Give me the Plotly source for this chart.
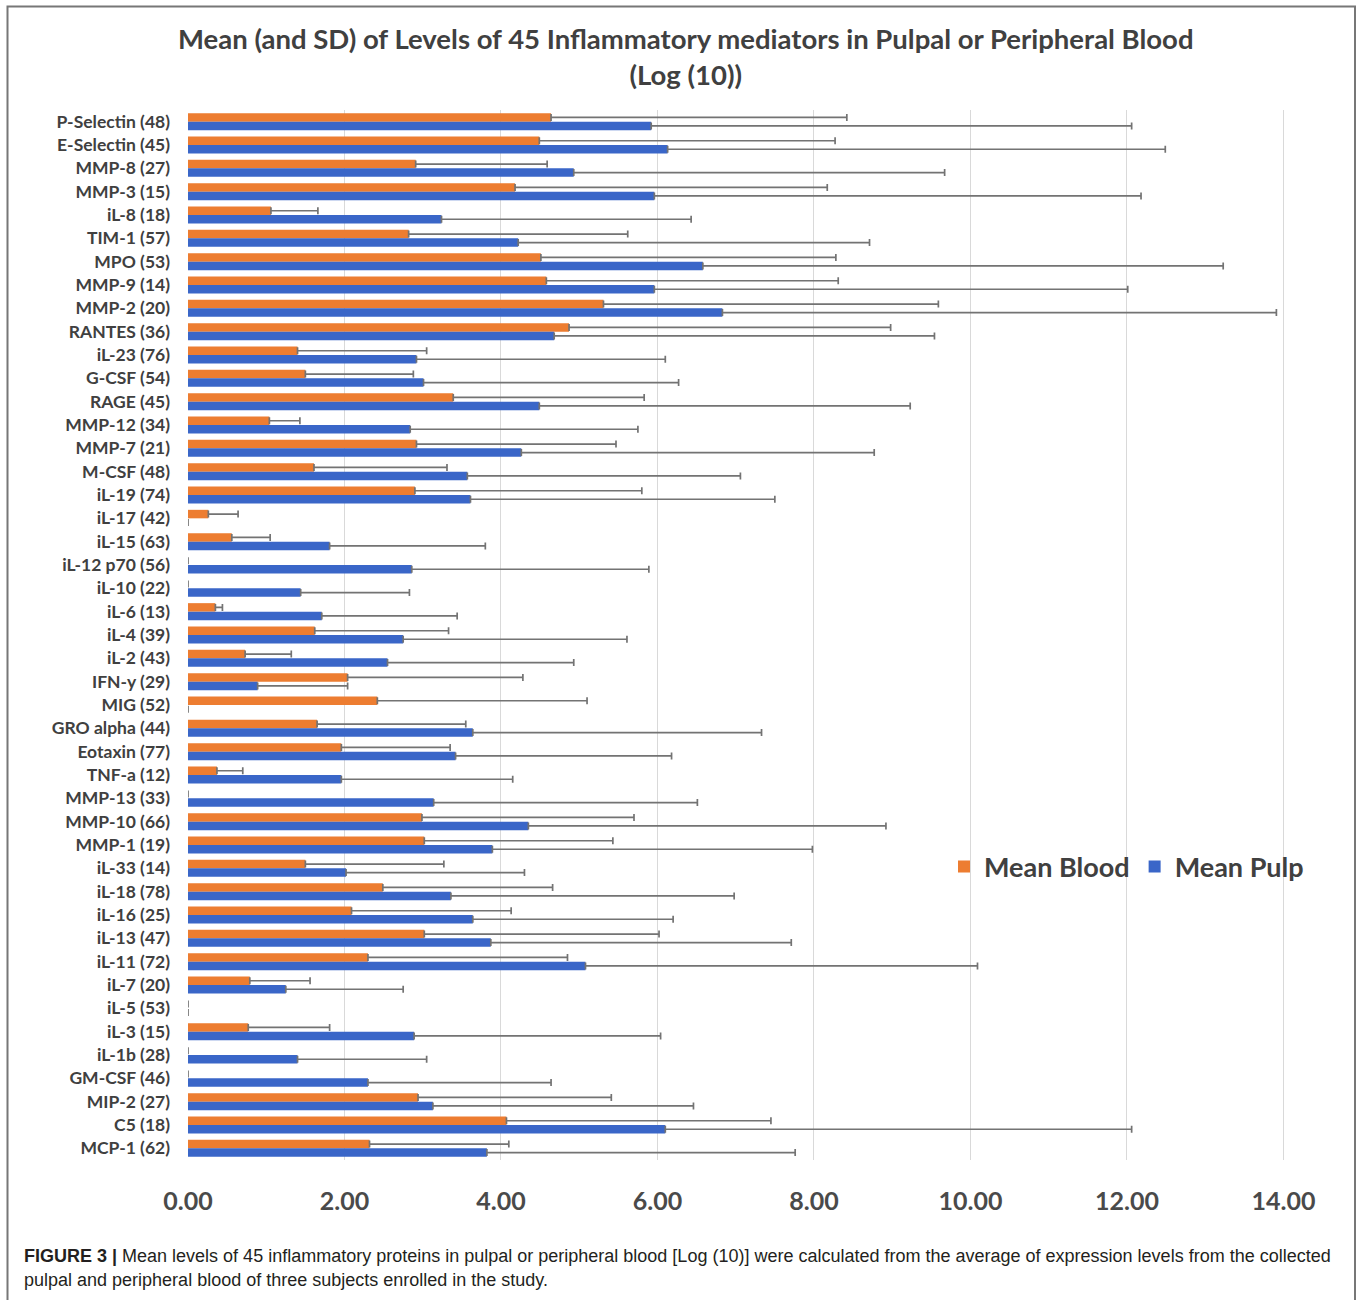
import plotly.graph_objects as go

# Mediators (number in brackets), listed top to bottom
mediators = [
    "P-Selectin (48)", "E-Selectin (45)", "MMP-8 (27)", "MMP-3 (15)", "iL-8 (18)",
    "TIM-1 (57)", "MPO (53)", "MMP-9 (14)", "MMP-2 (20)", "RANTES (36)",
    "iL-23 (76)", "G-CSF (54)", "RAGE (45)", "MMP-12 (34)", "MMP-7 (21)",
    "M-CSF (48)", "iL-19 (74)", "iL-17 (42)", "iL-15 (63)", "iL-12 p70 (56)",
    "iL-10 (22)", "iL-6 (13)", "iL-4 (39)", "iL-2 (43)", "IFN-y (29)",
    "MIG (52)", "GRO alpha (44)", "Eotaxin (77)", "TNF-a (12)", "MMP-13 (33)",
    "MMP-10 (66)", "MMP-1 (19)", "iL-33 (14)", "iL-18 (78)", "iL-16 (25)",
    "iL-13 (47)", "iL-11 (72)", "iL-7 (20)", "iL-5 (53)", "iL-3 (15)",
    "iL-1b (28)", "GM-CSF (46)", "MIP-2 (27)", "C5 (18)", "MCP-1 (62)",
]

# Mean log10 level in peripheral blood and its SD
mean_blood = [
    4.64, 4.49, 2.91, 4.18, 1.06,
    2.82, 4.51, 4.58, 5.31, 4.87,
    1.40, 1.50, 3.39, 1.04, 2.92,
    1.61, 2.90, 0.26, 0.56, 0.00,
    0.00, 0.35, 1.62, 0.73, 2.04,
    2.42, 1.65, 1.96, 0.37, 0.00,
    2.99, 3.02, 1.50, 2.49, 2.09,
    3.02, 2.30, 0.79, 0.00, 0.77,
    0.00, 0.00, 2.94, 4.07, 2.32,
]
sd_blood = [
    3.78, 3.78, 1.68, 3.99, 0.60,
    2.80, 3.77, 3.73, 4.28, 4.11,
    1.65, 1.38, 2.44, 0.39, 2.55,
    1.70, 2.90, 0.38, 0.49, 0.00,
    0.00, 0.09, 1.71, 0.59, 2.24,
    2.68, 1.90, 1.39, 0.33, 0.00,
    2.71, 2.41, 1.77, 2.17, 2.04,
    3.00, 2.55, 0.77, 0.00, 1.04,
    0.00, 0.00, 2.47, 3.38, 1.78,
]

# Mean log10 level in pulpal blood and its SD
mean_pulp = [
    5.92, 6.13, 4.93, 5.96, 3.24,
    4.22, 6.58, 5.96, 6.83, 4.68,
    2.92, 3.01, 4.49, 2.84, 4.26,
    3.57, 3.61, 0.00, 1.81, 2.86,
    1.44, 1.71, 2.75, 2.55, 0.89,
    0.00, 3.64, 3.42, 1.96, 3.14,
    4.35, 3.89, 2.02, 3.36, 3.64,
    3.87, 5.08, 1.25, 0.00, 2.89,
    1.40, 2.30, 3.13, 6.10, 3.82,
]
sd_pulp = [
    6.14, 6.36, 4.74, 6.22, 3.19,
    4.49, 6.65, 6.05, 7.08, 4.86,
    3.18, 3.26, 4.74, 2.91, 4.51,
    3.49, 3.89, 0.00, 1.99, 3.03,
    1.39, 1.73, 2.86, 2.38, 1.15,
    0.00, 3.69, 2.76, 2.19, 3.37,
    4.57, 4.09, 2.28, 3.62, 2.56,
    3.84, 5.01, 1.50, 0.00, 3.15,
    1.65, 2.34, 3.33, 5.96, 3.94,
]

x_ticks = [0, 2, 4, 6, 8, 10, 12, 14]

ORANGE = "#ED7D31"
BLUE = "#3A66C8"
ERR = "#737373"


def err(sd):
    return dict(type="data", array=sd, arrayminus=[0] * len(sd), symmetric=False,
                color=ERR, thickness=1.7, width=3.5)


fig = go.Figure()
fig.add_trace(go.Bar(
    name="Mean Blood", y=mediators, x=mean_blood, orientation="h",
    marker=dict(color=ORANGE, line=dict(width=0)), error_x=err(sd_blood),
))
fig.add_trace(go.Bar(
    name="Mean Pulp", y=mediators, x=mean_pulp, orientation="h",
    marker=dict(color=BLUE, line=dict(width=0)), error_x=err(sd_pulp),
))

W, H = 1357, 1300
L, R, T, B = 188, 72, 110, 140
pw, ph = W - L - R, H - T - B


def px(xpix):
    return (xpix - L) / pw


def py(ypix):
    return (H - B - ypix) / ph


fig.update_layout(
    width=W, height=H,
    margin=dict(l=L, r=R, t=T, b=B),
    paper_bgcolor="white", plot_bgcolor="white",
    barmode="group", bargap=0.27, bargroupgap=0.0,
    font=dict(family="Lato, Open Sans, sans-serif", color="#404040"),
    xaxis=dict(
        range=[0, 14.02], tickvals=x_ticks, tickformat=".2f",
        showgrid=True, gridcolor="#d9d9d9", gridwidth=1,
        zeroline=False, showline=False, ticks="",
        ticklabelstandoff=24,
        tickfont=dict(family="Lato, sans-serif", size=25, color="#4a4a4a", weight="bold"),
    ),
    yaxis=dict(
        autorange="reversed", showgrid=False, zeroline=False, showline=False,
        ticks="", ticklabelstandoff=17,
        tickfont=dict(family="Lato, sans-serif", size=17.5, color="#404040", weight="bold"),
    ),
    legend=dict(
        orientation="h", x=px(944), y=py(867), xanchor="left", yanchor="middle",
        font=dict(family="Lato, sans-serif", size=27, color="#404040", weight="bold"),
        bgcolor="rgba(0,0,0,0)", itemsizing="constant", traceorder="normal",
        tracegroupgap=0, itemwidth=30,
    ),
    shapes=[dict(
        type="rect", xref="paper", yref="paper",
        x0=px(7.5), x1=px(1355), y0=py(1305), y1=py(6.5),
        line=dict(color="#777777", width=2), fillcolor="rgba(0,0,0,0)", layer="below",
    )],
    annotations=[
        dict(
            text="Mean (and SD) of Levels of 45 Inflammatory mediators in Pulpal or Peripheral Blood<br>(Log (10))",
            xref="paper", yref="paper", x=px(686), y=py(56), xanchor="center", yanchor="middle",
            showarrow=False, align="center",
            font=dict(family="Lato, sans-serif", size=27.5, color="#404040", weight="bold"),
        ),
        dict(
            text="<b>FIGURE 3 |</b> Mean levels of 45 inflammatory proteins in pulpal or peripheral blood [Log (10)] were calculated from the average of expression levels from the collected",
            xref="paper", yref="paper", x=px(22), y=py(1256), xanchor="left", yanchor="middle",
            showarrow=False, align="left",
            font=dict(family="Liberation Sans Narrow, Arial Narrow, Liberation Sans, sans-serif", size=18, color="#231f20"),
        ),
        dict(
            text="pulpal and peripheral blood of three subjects enrolled in the study.",
            xref="paper", yref="paper", x=px(22), y=py(1280), xanchor="left", yanchor="middle",
            showarrow=False, align="left",
            font=dict(family="Liberation Sans Narrow, Arial Narrow, Liberation Sans, sans-serif", size=18, color="#231f20"),
        ),
    ],
)

fig.write_html("out.html")
